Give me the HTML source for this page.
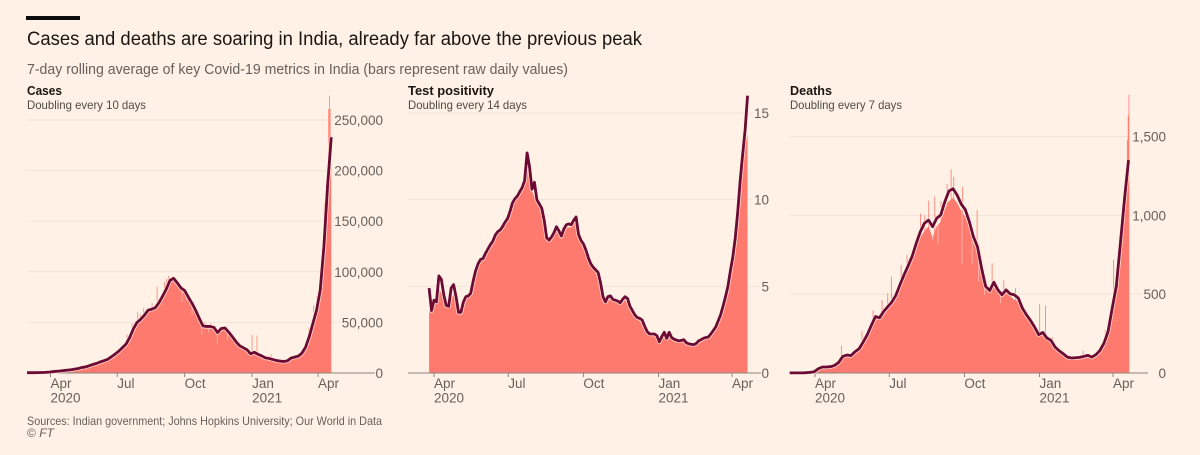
<!DOCTYPE html>
<html lang="en">
<head>
<meta charset="utf-8">
<title>Cases and deaths are soaring in India</title>
<style>
  html, body { margin: 0; padding: 0; background: #fff1e5; }
  svg { display: block; font-family: "Liberation Sans", sans-serif; }
</style>
</head>
<body>
<svg id="figure" width="1200" height="455" viewBox="0 0 1200 455" xmlns="http://www.w3.org/2000/svg">
  <rect width="1200" height="455" fill="#fff1e5"/>
  <rect x="26" y="16" width="54" height="4" fill="#0d0d0d"/>
  <text x="27" y="45" font-size="19.6" fill="#1a1614" textLength="615" lengthAdjust="spacingAndGlyphs">Cases and deaths are soaring in India, already far above the previous peak</text>
  <text x="27" y="74" font-size="14.5" fill="#66605c" textLength="541" lengthAdjust="spacingAndGlyphs">7-day rolling average of key Covid-19 metrics in India (bars represent raw daily values)</text>

  <g id="panel-cases">
    <text x="27" y="95" font-size="13" font-weight="bold" fill="#1a1614" textLength="35" lengthAdjust="spacingAndGlyphs">Cases</text>
    <text x="27" y="109" font-size="12" fill="#4f4a46" textLength="119" lengthAdjust="spacingAndGlyphs">Doubling every 10 days</text>
  </g>
  <g id="panel-positivity">
    <text x="408" y="95" font-size="13" font-weight="bold" fill="#1a1614" textLength="86" lengthAdjust="spacingAndGlyphs">Test positivity</text>
    <text x="408" y="109" font-size="12" fill="#4f4a46" textLength="119" lengthAdjust="spacingAndGlyphs">Doubling every 14 days</text>
  </g>
  <g id="panel-deaths">
    <text x="790" y="95" font-size="13" font-weight="bold" fill="#1a1614" textLength="42" lengthAdjust="spacingAndGlyphs">Deaths</text>
    <text x="790" y="109" font-size="12" fill="#4f4a46" textLength="112" lengthAdjust="spacingAndGlyphs">Doubling every 7 days</text>
  </g>

  <text x="27" y="425" font-size="12" fill="#66605c" textLength="355" lengthAdjust="spacingAndGlyphs">Sources: Indian government; Johns Hopkins University; Our World in Data</text>
  <text x="27" y="437" font-size="12" fill="#66605c">© <tspan font-style="italic">FT</tspan></text>
</svg>

<script>
// Shared x axis categories (days since 1 Apr 2020)
const monthDays = [0, 91, 183, 275, 365];
const monthLabels = ["Apr", "Jul", "Oct", "Jan", "Apr"];
const yearLabels = ["2020", "", "", "2021", ""];

// Cases (thousands per day). Average sampled every 5 days from day -32.
const casesTicks = [0, 50, 100, 150, 200, 250];
const casesTickLabels = ["0", "50,000", "100,000", "150,000", "200,000", "250,000"];
const casesAvg = [0.3,0.3,0.3,0.4,0.5,0.6,0.9,1.3,1.7,2,2.4,2.8,3.2,3.8,4.5,5.5,6,7.2,8.5,9.5,11,12.2,13.5,16,18.7,21.5,25,28.5,35,43.5,50,53,57,62,63,64.5,69.5,76,83,91.5,93.5,89,84,81.5,75,69,62,54,46.5,46,46,45,40,44,44.5,40.5,36,31,27,25,23,19,20.5,18.5,17,15,14.4,13.4,12.4,11.8,11.4,12,14.7,15.7,16.7,19.6,25.5,36,49,62,82,125,185,233];
const casesRaw = [0.2,0.2,0.2,0.3,0.4,0.5,0.7,1.1,1.5,1.8,2.2,2.5,3,3.5,4.2,5.2,5.7,6.8,8,9,10.5,11.8,13,15,18,21,24.5,28,34,42,49,52,56,61,62,63.5,68,75,82,90,92,88,82,80,73,67,60,52,44,44,45,43,38,43,43,39,35,30,26,24,22,18,20,18,16.5,14.5,14,13,12,11.5,11,11.7,14.3,15.5,16.5,19,25,35,48,61,81,125,185,233];
const casesSpikeDays = [104,110.7,118.5,122,126.7,132,138,141,144.9,151,154.9,158,160.8,165.3,170,210,218,274.4,281.2,300.5,352,358.6,363,371,373,379,380,381];
const casesSpikeValues = [38,49,60,58,64,62,69,66,85,78,90,93,96,95,92,50,49,37.6,37,18.6,44,67,76,108,168,261,274,261];
const casesDipDays = [179,185,192.6,206,215,226.9,241];
const casesDipLows = [70,72,57,37.5,40,29,32];
const casesDipHighs = [82,80,70,47,46,40,39];

// Test positivity (%). Average sampled every 3 days, raw every 6 days, from day -6.
const positivityTicks = [0, 5, 10, 15];
const positivityTickLabels = ["0", "5", "10", "15"];
const positivityAvg = [4.9,3.6,4.2,4.1,5.6,5.4,4.5,3.9,3.85,4.9,5.1,4.4,3.5,3.5,4.1,4.4,4.45,4.6,5.3,5.9,6.3,6.55,6.6,6.9,7.15,7.4,7.6,7.95,8.15,8.25,8.45,8.7,8.9,9.3,9.8,10.05,10.2,10.45,10.7,11.1,12.7,11.9,10.6,11,10,9.75,9.5,8.8,7.8,7.67,7.85,8.1,8.44,8.2,7.9,8.3,8.55,8.6,8.55,8.8,9,8,7.65,7.45,7.1,6.65,6.3,6.1,5.95,5.8,5.2,4.4,4.1,4.4,4.45,4.25,4.2,4.15,4.05,4.25,4.4,4.3,3.85,3.6,3.35,3.2,3.15,3.05,2.7,2.4,2.25,2.25,2.25,2.15,1.8,2.1,2.35,2,2.35,2.05,1.95,1.9,1.85,1.88,1.92,1.75,1.68,1.66,1.63,1.7,1.85,1.92,2,2.05,2.08,2.25,2.45,2.65,3,3.35,3.85,4.4,5,5.9,6.7,7.8,9.3,11.1,12.6,14,16];
const positivityRaw = [3.6,3.9,4.9,4.3,3.8,4.6,3.4,4.3,4.5,5.7,6.2,6.8,7.3,7.8,8.1,8.5,9,9.9,10.3,10.6,12.4,10.5,9.8,9.3,7.6,7.7,8.3,7.7,8.4,8.4,8.8,7.5,7,6.2,5.8,5,4,4.3,4.1,3.95,4.25,3.75,3.25,3,2.6,2.15,2.15,1.75,2.2,2.2,1.9,1.8,1.85,1.6,1.55,1.75,1.95,2,2.35,2.9,3.75,4.9,6.6,9.2,12.4,13.8];
const positivitySpikeDays = [];
const positivitySpikeValues = [];
const positivityDipDays = [];
const positivityDipLows = [];
const positivityDipHighs = [];

// Deaths (per day). Sampled every 5 days from day -31.
const deathsTicks = [0, 500, 1000, 1500];
const deathsTickLabels = ["0", "500", "1,000", "1,500"];
const deathsAvg = [1,1,1,1,2,4,8,27,38,38,40,48,67,105,114,110,135,154,196,243,302,358,350,390,420,449,492,559,622,679,740,823,896,950,970,928,981,1002,1086,1154,1169,1129,1072,1037,960,864,801,665,549,523,576,527,496,527,502,496,475,411,369,333,291,243,257,222,207,165,141,122,101,95,97,99,105,112,101,116,143,190,264,411,549,820,1100,1350];
const deathsRaw = [1,1,1,1,2,3,6,22,34,35,37,44,62,98,108,105,130,150,190,236,295,350,342,382,412,440,482,548,610,665,725,800,860,900,930,860,930,960,1040,1090,1110,1080,1030,990,920,830,770,640,530,510,560,515,480,510,490,465,455,400,360,325,285,235,250,215,200,160,135,118,98,92,94,96,102,106,98,112,140,185,255,400,540,800,1080,1350];
const deathsSpikeDays = [31.8,57,70.6,81.6,88.6,93,105,112.3,128.6,134,138.8,146.2,153.9,161.3,166.2,169.4,180.4,198,216.4,230.7,245,274.7,281.7,290,328,355,365.3,376.4,382,383,384];
const deathsSpikeValues = [173,264,397,464,506,612,686,749,1012,1000,1093,1119,1090,1200,1291,1244,1181,1034,696,587,538,439,428,228,141,274,717,1023,1480,1634,1765];
const deathsDipDays = [143.7,150.2,179.6,192,200,207,226.6];
const deathsDipLows = [844,818,691,696,580,496,443];
const deathsDipHighs = [950,960,1090,900,780,640,520];

const BG = "#fff1e5", FILL = "#ff7a6e", LINE = "#6b0a33", GRID = "#f0e3d8", AXIS = "#8d847c", TEXT = "#66605c";
const NS = "http://www.w3.org/2000/svg";

function make(parent, tag, attrs) {
  const el = document.createElementNS(NS, tag);
  for (const k in attrs) el.setAttribute(k, attrs[k]);
  parent.appendChild(el);
  return el;
}

function drawPanel(cfg) {
  const root = document.getElementById(cfg.id);
  const x = d => cfg.xApr + d * cfg.xPerDay;
  const y = v => 373 - v * cfg.yPerUnit;

  // gridlines and value labels
  cfg.ticks.forEach((t, i) => {
    const label = make(root, "text", { x: cfg.labelRight, y: y(t) + 5, "text-anchor": "end", "font-size": 13.5, fill: TEXT });
    label.textContent = cfg.tickLabels[i];
    
    
    if (t !== 0) {
      const end = cfg.labelRight - label.getComputedTextLength() - 1;
      const grid = make(root, "line", { x1: cfg.axisLeft, x2: end, y1: y(t), y2: y(t), stroke: GRID, "stroke-width": 1 });
      
      
    }
  });

  // raw daily values: solid body
  const areaPts = cfg.raw.map((v, i) => x(cfg.rawStart + i * cfg.rawStep).toFixed(2) + "," + y(v).toFixed(2));
  const lastX = x(cfg.rawStart + (cfg.raw.length - 1) * cfg.rawStep).toFixed(2);
  const firstX = x(cfg.rawStart).toFixed(2);
  const area = make(root, "polygon", { points: firstX + ",373 " + areaPts.join(" ") + " " + lastX + ",373", fill: FILL });
  
  

  // raw daily values: outlying high days
  cfg.spikeDays.forEach((d, i) => {
    const spike = make(root, "rect", { x: x(d), y: y(cfg.spikeValues[i]), width: cfg.xPerDay, height: 373 - y(cfg.spikeValues[i]), fill: FILL });
    
    
  });

  // raw daily values: outlying low days
  cfg.dipDays.forEach((d, i) => {
    const dip = make(root, "rect", { x: x(d), y: y(cfg.dipHighs[i]), width: cfg.xPerDay, height: y(cfg.dipLows[i]) - y(cfg.dipHighs[i]), fill: BG, "fill-opacity": 0.55 });
    
    
  });

  // axis and month ticks
  const axis = make(root, "line", { x1: cfg.axisLeft, x2: cfg.axisRight, y1: 373, y2: 373, stroke: AXIS, "stroke-width": 1 });
  
  
  monthDays.forEach((d, i) => {
    const tick = make(root, "line", { x1: x(d), x2: x(d), y1: 373, y2: 377, stroke: AXIS, "stroke-width": 1 });
    
    
    const month = make(root, "text", { x: x(d), y: 388, "font-size": 13.5, fill: TEXT });
    month.textContent = monthLabels[i];
    
    
    if (yearLabels[i]) {
      const year = make(root, "text", { x: x(d), y: 402.5, "font-size": 13.5, fill: TEXT });
      year.textContent = yearLabels[i];
      
      
    }
  });

  // rolling average with pale halo
  const linePts = cfg.avg.map((v, i) => x(cfg.avgStart + i * cfg.avgStep).toFixed(2) + "," + y(v).toFixed(2)).join(" ");
  const halo = make(root, "polyline", { points: linePts, fill: "none", stroke: "#fff1e5", "stroke-opacity": 0.8, "stroke-width": 4.4, "stroke-linejoin": "round" });
  
  
  const line = make(root, "polyline", { points: linePts, fill: "none", stroke: LINE, "stroke-width": 2.8, "stroke-linejoin": "round" });
  
  
}

drawPanel({ id: "panel-cases", xApr: 50.5, xPerDay: 0.733, yPerUnit: 253 / 250, axisLeft: 27, axisRight: 375, labelRight: 383,
  ticks: casesTicks, tickLabels: casesTickLabels, avg: casesAvg, avgStart: -32, avgStep: 5, raw: casesRaw, rawStart: -32, rawStep: 5,
  spikeDays: casesSpikeDays, spikeValues: casesSpikeValues, dipDays: casesDipDays, dipLows: casesDipLows, dipHighs: casesDipHighs });

drawPanel({ id: "panel-positivity", xApr: 434, xPerDay: 0.8165, yPerUnit: 260 / 15, axisLeft: 408, axisRight: 761, labelRight: 769,
  ticks: positivityTicks, tickLabels: positivityTickLabels, avg: positivityAvg, avgStart: -6, avgStep: 3, raw: positivityRaw, rawStart: -6, rawStep: 6,
  spikeDays: positivitySpikeDays, spikeValues: positivitySpikeValues, dipDays: positivityDipDays, dipLows: positivityDipLows, dipHighs: positivityDipHighs });

drawPanel({ id: "panel-deaths", xApr: 815, xPerDay: 0.8165, yPerUnit: 236.5 / 1500, axisLeft: 790, axisRight: 1148, labelRight: 1166,
  ticks: deathsTicks, tickLabels: deathsTickLabels, avg: deathsAvg, avgStart: -31, avgStep: 5, raw: deathsRaw, rawStart: -31, rawStep: 5,
  spikeDays: deathsSpikeDays, spikeValues: deathsSpikeValues, dipDays: deathsDipDays, dipLows: deathsDipLows, dipHighs: deathsDipHighs });
</script>
</body>
</html>
